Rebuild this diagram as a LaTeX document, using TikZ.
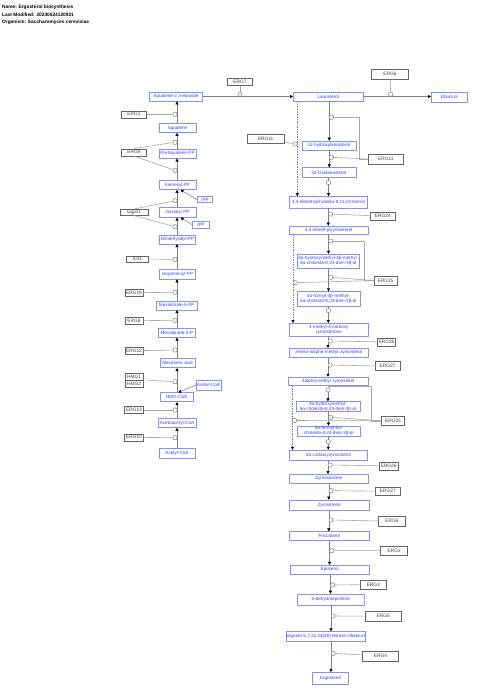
\documentclass[tikz,border=0pt]{standalone}
\usepackage{fontspec}
\setmainfont{Liberation Sans}
\usetikzlibrary{arrows.meta,calc}
\definecolor{mblue}{HTML}{3C3CF0}
\definecolor{mborder}{HTML}{8C8CFF}
\definecolor{gborder}{HTML}{666666}
\definecolor{ggray}{HTML}{A8A8A8}
\definecolor{lgray}{HTML}{808080}
\begin{document}
\begin{tikzpicture}[x=1pt,y=-1pt,
  met/.style={draw=mborder, line width=0.6pt, fill=white, text=mblue, font=\fontsize{4.6}{5}\selectfont, inner sep=0pt, align=center, minimum height=9pt},
  gene/.style={draw=gborder, line width=0.6pt, fill=white, text=black!75, font=\fontsize{4.8}{5}\selectfont, inner sep=0pt, minimum height=7pt},
  arr/.style={draw=lgray, line width=0.55pt, -{Triangle[length=3pt,width=3pt,color=black]}},
  darr/.style={arr, dash pattern=on 1.5pt off 1pt},
  gl/.style={draw=ggray, line width=0.6pt},
  circ/.style={circle, draw=lgray, fill=white, line width=0.5pt, inner sep=0pt, minimum size=4.4pt},
  hdr/.style={anchor=west, inner sep=0pt, font=\bfseries\fontsize{4.8}{5}\selectfont}]
\fill[white] (0,0) rectangle (480,697);
\useasboundingbox (0,0) rectangle (480,697);
% header
\node[hdr] (h1) at (2,7) {Name: Ergosterol biosynthesis};
\node[hdr] (h2) at (2,14.7) {Last Modified: 20230524120921};
\node[hdr] (h3) at (2,22) {Organism: Saccharomyces cerevisiae};
% left column metabolites
\node[met, minimum width=53pt] (sqe) at (176,96.5) {Squalene-2,3-epoxide};
\node[met, minimum width=37pt] (sq) at (177.5,128) {Squalene};
\node[met, minimum width=37pt] (psq) at (177.5,153.7) {PreSqualene-PP};
\node[met, minimum width=37pt] (far) at (177.5,185) {Farnesyl-PP};
\node[met, minimum width=15pt, minimum height=6pt] (ipp1) at (205,199.5) {IPP};
\node[met, minimum width=37pt, minimum height=10pt] (ger) at (177.5,212.3) {Geranyl-PP};
\node[met, minimum width=17pt, minimum height=6.5pt] (ipp2) at (201,224.7) {IPP};
\node[met, minimum width=36pt] (dma) at (177.5,239.3) {Dimethylallyl-PP};
\node[met, minimum width=36pt, minimum height=10pt] (ipe) at (177.5,274) {Isopentenyl-PP};
\node[met, minimum width=41pt] (m5pp) at (176.7,305.3) {Mevalonate-5-PP};
\node[met, minimum width=37pt] (m5p) at (176.8,332.8) {Mevalonate-5-P};
\node[met, minimum width=35pt] (mva) at (177.5,363.2) {Mevalonic acid};
\node[met, minimum width=25pt, minimum height=10pt] (acoa2) at (208.5,385) {Acetyl-CoA};
\node[met, minimum width=33pt] (hmg) at (176.7,397.2) {HMG-CoA};
\node[met, minimum width=38pt] (aac) at (177,423) {Acetoacetyl-CoA};
\node[met, minimum width=36pt, minimum height=10pt] (acoa) at (177,453.3) {Acetyl-CoA};
% left genes
\node[gene, minimum width=25pt] (erg1) at (134,114.3) {ERG1};
\node[gene, minimum width=25pt] (erg9) at (134,152.3) {ERG9};
\node[gene, minimum width=28pt, minimum height=6pt] (ggps1) at (134,212.3) {Ggps1};
\node[gene, minimum width=21.6pt, minimum height=6pt] (idi1) at (137.5,259) {IDI1};
\node[gene, minimum width=18pt] (erg19) at (134,292.7) {ERG19};
\node[gene, minimum width=18pt] (erg8) at (134,320.7) {ERG8};
\node[gene, minimum width=18pt] (erg12) at (134,350.7) {ERG12};
\node[gene, minimum width=18pt, minimum height=6.6pt] (hmg1) at (134,376.6) {HMG1};
\node[gene, minimum width=18pt, minimum height=6.6pt] (hmg2) at (134,383.6) {HMG2};
\node[gene, minimum width=19pt] (erg13) at (134,410) {ERG13};
\node[gene, minimum width=19pt] (erg10) at (134,437.3) {ERG10};
% right column metabolites
\node[met, minimum width=70pt, minimum height=9.3pt] (lano) at (328.3,96.5) {Lanosterol};
\node[met, minimum width=36pt, minimum height=10pt] (ebur) at (449.3,96.8) {Eburicol};
\node[met, minimum width=54pt] (hlano) at (328.8,145.5) {32-hydroxylanosterol};
\node[met, minimum width=54pt, minimum height=9.6pt] (oxo) at (328.8,172.5) {32-Oxolanosterol};
\node[met, minimum width=78pt, minimum height=11.5pt] (dmct) at (328.5,202.2) {4,4-dimethylcholesta-8,11,24-trienol};
\node[met, minimum width=79pt, minimum height=8pt] (dmz) at (328.8,230) {4,4-dimethylzymosterol};
\node[met, minimum width=62pt, minimum height=14.3pt] (hm1) at (328.3,261.2) {4α-hydroxymethyl-4β-methyl-\\5α-cholesta-8,24-dien-3β-ol};
\node[met, minimum width=63pt, minimum height=14.3pt] (fm1) at (328.3,298.8) {4α-formyl-4β-methyl-\\5α-cholesta-8,24-dien-3β-ol};
\node[met, minimum width=79pt, minimum height=13.4pt] (mcz) at (328.8,330) {4-methyl-4-carboxy\\zymosterone};
\node[met, minimum width=79pt] (kmz) at (328.8,352.8) {3-keto-4alpha-methyl-zymosterol};
\node[met, minimum width=80pt, minimum height=8.5pt] (amz) at (328.3,381.3) {4alpha-methyl zymosterol};
\node[met, minimum width=64pt, minimum height=10pt] (hm2) at (328,406.7) {4α-hydroxymethyl-\\5α-cholesta-8,24-dien-3β-ol};
\node[met, minimum width=63pt, minimum height=10pt] (fm2) at (328.7,431) {4α-formyl-5α-\\cholesta-8,24-dien-3β-ol};
\node[met, minimum width=78pt, minimum height=10.5pt] (cz) at (328.5,455.3) {4α-carboxyzymosterol};
\node[met, minimum width=79pt] (zymone) at (328.8,478.8) {Zymosterone};
\node[met, minimum width=80pt, minimum height=10pt] (zymol) at (329.3,505) {Zymosterol};
\node[met, minimum width=80pt] (feco) at (329.3,536.2) {Fecosterol};
\node[met, minimum width=79pt, minimum height=9.3pt] (epi) at (329.7,569.7) {Episterol};
\node[met, minimum width=67pt, minimum height=11pt] (dhe) at (330.7,599.5) {5-dehydroepisterol};
\node[met, minimum width=77pt, minimum height=9.3pt] (tetra) at (325.7,636.3) {ergosta-5,7,22,24(28)-tetraen-3beta-ol};
\node[met, minimum width=36pt, minimum height=11.7pt] (ergo) at (330.5,678.2) {Ergosterol};
% right genes
\node[gene, minimum width=25pt, minimum height=7.4pt] (erg7) at (240,82) {ERG7};
\node[gene, minimum width=36.6pt, minimum height=9.3pt] (erg6a) at (390,74.3) {ERG6};
\node[gene, minimum width=36.7pt, minimum height=9.3pt] (erg11a) at (265.7,138.7) {ERG11};
\node[gene, minimum width=35pt, minimum height=10pt] (erg11b) at (385.8,159) {ERG11};
\node[gene, minimum width=24.3pt, minimum height=7.7pt] (erg24) at (382.8,216.2) {ERG24};
\node[gene, minimum width=23pt, minimum height=9.3pt] (erg25a) at (385.5,280.5) {ERG25};
\node[gene, minimum width=18.4pt, minimum height=8pt] (erg26a) at (386.5,342) {ERG26};
\node[gene, minimum width=25pt, minimum height=9pt] (erg27a) at (387.5,366.2) {ERG27};
\node[gene, minimum width=23pt, minimum height=8.3pt] (erg25b) at (393,420.8) {ERG25};
\node[gene, minimum width=19.3pt, minimum height=8pt] (erg26b) at (388.7,466) {ERG26};
\node[gene, minimum width=24.3pt, minimum height=8pt] (erg27b) at (387.8,491.3) {ERG27};
\node[gene, minimum width=27.4pt, minimum height=9.3pt] (erg6b) at (392,521.3) {ERG6};
\node[gene, minimum width=27pt, minimum height=9pt] (erg2) at (394.2,550.5) {ERG2};
\node[gene, minimum width=26.7pt, minimum height=9pt] (erg3) at (373.3,584.5) {ERG3};
\node[gene, minimum width=36.7pt, minimum height=9.3pt] (erg5) at (383.3,616.3) {ERG5};
\node[gene, minimum width=35.6pt, minimum height=10pt] (erg4) at (380.5,656) {ERG4};
% left main line
\coordinate (L) at (177,0);
\draw[arr] (acoa.north -| L) -- (aac.south -| L);
\draw[arr] (aac.north -| L) -- (hmg.south -| L);
\draw[arr] (hmg.north -| L) -- (mva.south -| L);
\draw[arr] (mva.north -| L) -- (m5p.south -| L);
\draw[arr] (m5p.north -| L) -- (m5pp.south -| L);
\draw[arr] (m5pp.north -| L) -- (ipe.south -| L);
\draw[arr] (ipe.north -| L) -- (dma.south -| L);
\draw[arr] (dma.north -| L) -- (ger.south -| L);
\draw[arr] (ger.north -| L) -- (far.south -| L);
\draw[arr] (far.north -| L) -- (psq.south -| L);
\draw[arr] (psq.north -| L) -- (sq.south -| L);
\draw[arr] (sq.north -| L) -- (sqe.south -| L);
\draw[arr] (acoa2.west) -- ([xshift=1.5pt]hmg.north);
\draw[arr] (ipp1.west) -- ([xshift=3pt]far.south);
\draw[arr] (ipp2.west) -- ([xshift=3pt]ger.south);
% top horizontal
\draw[arr] (sqe.east) -- (lano.west);
\draw[arr] (lano.east) -- (lano.east -| ebur.west);
% right main line coordinates
\coordinate (s1) at (329.3,117.3);
\coordinate (s2) at (329.3,157.3);
\coordinate (s3) at (328.5,182.5);
\coordinate (s4) at (328.3,214);
\coordinate (s5) at (328.5,241);
\coordinate (s6) at (328.5,277.3);
\coordinate (s7) at (328.3,310.7);
\coordinate (s8) at (328,341);
\coordinate (s9) at (328,365);
\coordinate (s10) at (328,390);
\coordinate (s11) at (328.5,417.3);
\coordinate (s12) at (328.3,441.7);
\coordinate (s13) at (328,465);
\coordinate (s14) at (328.8,490.7);
\coordinate (s15) at (328.8,520);
\coordinate (s16) at (329.5,550.7);
\coordinate (s17) at (330.5,585);
\coordinate (s18) at (331,616);
\coordinate (s19) at (331,653.3);
\draw[arr] (lano.south -| s1) -- (hlano.north -| s1);
\draw[arr] (hlano.south -| s2) -- (oxo.north -| s2);
\draw[arr] (oxo.south -| s3) -- (dmct.north -| s3);
\draw[arr] (dmct.south -| s4) -- (dmz.north -| s4);
\draw[arr] (dmz.south -| s5) -- (hm1.north -| s5);
\draw[arr] (hm1.south -| s6) -- (fm1.north -| s6);
\draw[arr] (fm1.south -| s7) -- (mcz.north -| s7);
\draw[arr] (mcz.south -| s8) -- (kmz.north -| s8);
\draw[arr] (kmz.south -| s9) -- (amz.north -| s9);
\draw[arr] (amz.south -| s10) -- (hm2.north -| s10);
\draw[arr] (hm2.south -| s11) -- (fm2.north -| s11);
\draw[arr] (fm2.south -| s12) -- (cz.north -| s12);
\draw[arr] (cz.south -| s13) -- (zymone.north -| s13);
\draw[arr] (zymone.south -| s14) -- (zymol.north -| s14);
\draw[arr] (zymol.south -| s15) -- (feco.north -| s15);
\draw[arr] (feco.south -| s16) -- (epi.north -| s16);
\draw[arr] (epi.south -| s17) -- (dhe.north -| s17);
\draw[arr] (dhe.south -| s18) -- (tetra.north -| s18);
\draw[arr] (tetra.south -| s19) -- (ergo.north -| s19);
% dashed shortcuts
\coordinate (d1) at (297.3,144);
\coordinate (d2) at (293,282.7);
\coordinate (d3) at (292.5,420.5);
\draw[darr] (lano.south -| d1) -- (dmct.north -| d1);
\draw[darr] (dmz.south -| d2) -- (mcz.north -| d2);
\draw[darr] (amz.south -| d3) -- (cz.north -| d3);
% anchor circles, left
\node[circ] (cg1) at (175,114.3) {};
\node[circ] (cg9a) at (175,142.3) {};
\node[circ] (cg9b) at (175,170.3) {};
\node[circ] (cgg1) at (175,200.7) {};
\node[circ] (cgg2) at (175,226.7) {};
\node[circ] (cidi) at (175,259.3) {};
\node[circ] (c19) at (175,292.3) {};
\node[circ] (c8) at (175,320.3) {};
\node[circ] (c12) at (175,350) {};
\node[circ] (chmg) at (175,381.7) {};
\node[circ] (c13) at (175,410) {};
\node[circ] (c10) at (175,437.7) {};
% anchor circles, right
\node[circ] (c7) at (240,94.3) {};
\node[circ] (c6a) at (390.7,94.3) {};
\node[circ] (c11a) at ([xshift=-2.2pt]d1) {};
\node[circ] (c11b1) at ([xshift=2.2pt]s1) {};
\node[circ] (c11b2) at ([xshift=2.2pt]s2) {};
\node[circ] (co1) at (s3) {};
\node[circ] (c24) at ([xshift=2.2pt]s4) {};
\node[circ] (c25a1) at ([xshift=2.2pt]s5) {};
\node[circ] (c25a2) at ([xshift=2.2pt]s6) {};
\node[circ] (c25a3) at ([xshift=2.2pt]d2) {};
\node[circ] (co2) at (s7) {};
\node[circ] (c26a) at ([xshift=2.2pt]s8) {};
\node[circ] (c27a) at ([xshift=2.2pt]s9) {};
\node[circ] (camz) at (s10) {};
\node[circ] (c25b2) at ([xshift=2.2pt]s11) {};
\node[circ] (c25b3) at ([xshift=2.2pt]d3) {};
\node[circ] (co3) at (s12) {};
\node[circ] (c26b) at ([xshift=2.2pt]s13) {};
\node[circ] (c27b) at ([xshift=2.2pt]s14) {};
\node[circ] (c6b) at ([xshift=2.2pt]s15) {};
\node[circ] (c2) at ([xshift=2.2pt]s16) {};
\node[circ] (c3) at ([xshift=2.2pt]s17) {};
\node[circ] (c5) at ([xshift=2.2pt]s18) {};
\node[circ] (c4) at ([xshift=2.2pt]s19) {};
% gene lines, left
\draw[gl] (erg1) -- (cg1);
\draw[gl] (erg9.north) -- (cg9a);
\draw[gl] (erg9.south) -- (cg9b);
\draw[gl] (ggps1.north) -- (cgg1);
\draw[gl] (ggps1.south) -- (cgg2);
\draw[gl] (idi1) -- (cidi);
\draw[gl] (erg19) -- (c19);
\draw[gl] (erg8) -- (c8);
\draw[gl] (erg12) -- (c12);
\draw[gl] ([xshift=4pt]hmg1.south east) -- (chmg);
\draw[gl] (erg13) -- (c13);
\draw[gl] (erg10) -- (c10);
% gene lines, right
\draw[gl] (erg7) -- (c7);
\draw[gl] (erg6a) -- (c6a);
\draw[gl] (erg11a) -- (c11a);
\draw[gl] (c11b1) -| ([xshift=-9pt]erg11b.west) -- (erg11b.west);
\draw[gl] (c11b2) -- (erg11b.west);
\draw[gl] (c24) -- (erg24);
\draw[gl] (c25a1) -| ([xshift=-9pt]erg25a.west) -- (erg25a.west);
\draw[gl] (c25a2) -- (erg25a.west);
\draw[gl] (c25a3) -- (erg25a.west);
\draw[gl] (c26a) -- (erg26a);
\draw[gl] (c27a) -- (erg27a);
\draw[gl] (camz.north) |- ($(erg25b.west)+(-10,-35)$) |- (erg25b.west);
\draw[gl] (c25b2) -- (erg25b.west);
\draw[gl] (c25b3) -- (erg25b.west);
\draw[gl] (c26b) -- (erg26b);
\draw[gl] (c27b) -- (erg27b);
\draw[gl] (c6b) -- (erg6b);
\draw[gl] (c2) -- (erg2);
\draw[gl] (c3) -- (erg3);
\draw[gl] (c5) -- (erg5);
\draw[gl] (c4) -- (erg4);
\end{tikzpicture}
\end{document}
